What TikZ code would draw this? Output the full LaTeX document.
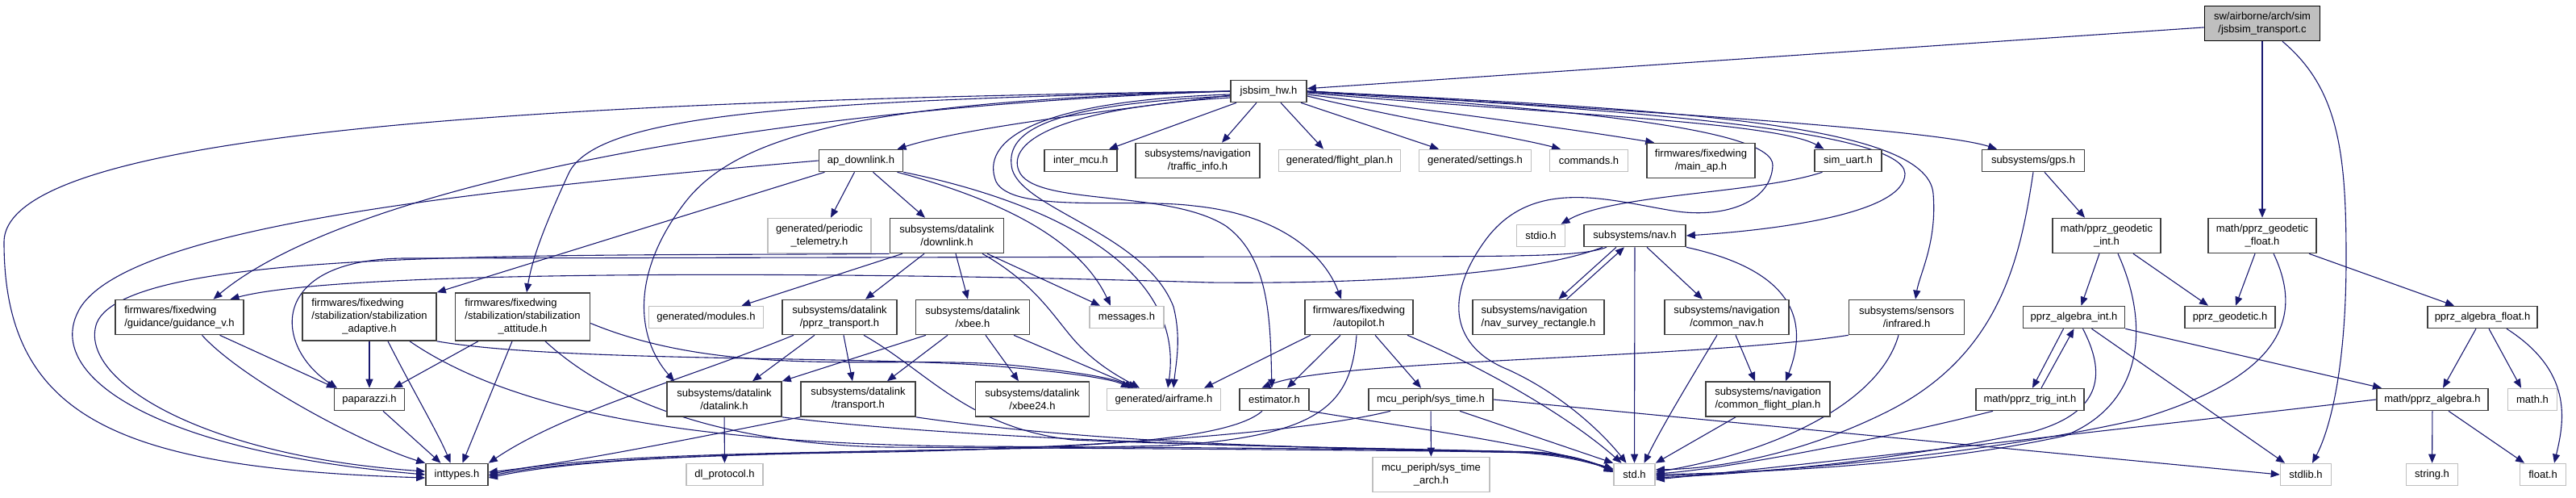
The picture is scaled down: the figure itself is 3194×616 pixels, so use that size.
\documentclass[tikz,border=0pt]{standalone}
\usepackage{fontspec}
\setmainfont{Liberation Sans}
\usetikzlibrary{arrows.meta}
\definecolor{edgec}{RGB}{25,25,112}
\definecolor{bdark}{RGB}{64,64,64}
\definecolor{blight}{RGB}{191,191,191}
\newcommand{\dxfont}{\fontsize{13}{16}\selectfont}
\pgfdeclarelayer{bg}
\pgfsetlayers{bg,main}
\begin{document}
\begin{tikzpicture}[x=1pt,y=-1pt,
  box/.style={draw=bdark, line width=1.6pt, fill=white, inner sep=0pt, minimum height=27pt, align=center, font=\dxfont},
  gbox/.style={box, draw=blight},
  mainbox/.style={box, draw=black, fill=blight},
  two/.style={minimum height=43pt},
  e/.style={draw=edgec, line width=1.1pt, -{Triangle[length=11pt,width=9pt]}}]
\useasboundingbox (0,0) rectangle (3194,616);
% row 0/1
\node[mainbox, two, minimum width=143pt] (M) at (2805,29) {sw/airborne/arch/sim\\/jsbsim\_transport.c};
\node[box, minimum width=94pt] (J) at (1573,113) {jsbsim\_hw.h};
% row 2
\node[box, minimum width=104pt] (AP) at (1067.5,199) {ap\_downlink.h};
\node[box, minimum width=90pt] (IM) at (1340,199) {inter\_mcu.h};
\node[box, two, minimum width=154pt] (TI) at (1485,199) {subsystems/navigation\\/traffic\_info.h};
\node[gbox, minimum width=151pt] (FP) at (1661,199) {generated/flight\_plan.h};
\node[gbox, minimum width=139pt] (SE) at (1829,199) {generated/settings.h};
\node[gbox, minimum width=97pt] (CM) at (1970,199) {commands.h};
\node[box, two, minimum width=134pt] (MA) at (2109,199) {firmwares/fixedwing\\/main\_ap.h};
\node[box, minimum width=83pt] (SU) at (2291.5,199) {sim\_uart.h};
\node[box, minimum width=127pt] (GPS) at (2521,199) {subsystems/gps.h};
% row 3
\node[gbox, two, minimum width=128pt] (PT) at (1016,292) {generated/periodic\\\_telemetry.h};
\node[box, two, minimum width=141pt] (DK) at (1174,292) {subsystems/datalink\\/downlink.h};
\node[gbox, minimum width=60pt] (SIO) at (1910.5,292) {stdio.h};
\node[box, minimum width=126pt] (NAV) at (2027,292) {subsystems/nav.h};
\node[box, two, minimum width=134pt] (GI) at (2612,292) {math/pprz\_geodetic\\\_int.h};
\node[box, two, minimum width=134pt] (GF) at (2805,292) {math/pprz\_geodetic\\\_float.h};
% row 4
\node[box, two, minimum width=159pt, align=left] (GV) at (222.5,393) {firmwares/fixedwing\\/guidance/guidance\_v.h};
\node[box, minimum height=59pt, minimum width=166pt] (SAD) at (458,392.5) {\begin{tabular}{@{}l@{}}firmwares/fixedwing\\/stabilization/stabilization\\\multicolumn{1}{@{}c@{}}{\_adaptive.h}\end{tabular}};
\node[box, minimum height=59pt, minimum width=167pt] (SAT) at (648,392.5) {\begin{tabular}{@{}l@{}}firmwares/fixedwing\\/stabilization/stabilization\\\multicolumn{1}{@{}c@{}}{\_attitude.h}\end{tabular}};
\node[gbox, minimum width=142pt] (MD) at (875.5,393) {generated/modules.h};
\node[box, two, minimum width=142pt] (PTR) at (1041,393) {subsystems/datalink\\/pprz\_transport.h};
\node[box, two, minimum width=141pt] (XB) at (1206,393) {subsystems/datalink\\/xbee.h};
\node[gbox, minimum width=92pt] (MS) at (1397,393) {messages.h};
\node[box, two, minimum width=134pt] (AUTO) at (1685,393) {firmwares/fixedwing\\/autopilot.h};
\node[box, two, minimum width=163pt, align=left] (NSR) at (1907.5,393) {subsystems/navigation\\/nav\_survey\_rectangle.h};
\node[box, two, minimum width=154pt] (CN) at (2141,393) {subsystems/navigation\\/common\_nav.h};
\node[box, two, minimum width=143pt] (IR) at (2364,393) {subsystems/sensors\\/infrared.h};
\node[box, minimum width=126pt] (AI) at (2571.5,393) {pprz\_algebra\_int.h};
\node[box, minimum width=112pt] (GD) at (2765,393) {pprz\_geodetic.h};
\node[box, minimum width=136pt] (AFL) at (3078,393) {pprz\_algebra\_float.h};
% row 5
\node[box, minimum width=87pt] (PP) at (458,495) {paparazzi.h};
\node[box, two, minimum width=142pt] (DL) at (898,494.5) {subsystems/datalink\\/datalink.h};
\node[box, two, minimum width=142pt] (TR) at (1064,494.5) {subsystems/datalink\\/transport.h};
\node[box, two, minimum width=141pt] (X24) at (1280,494.5) {subsystems/datalink\\/xbee24.h};
\node[gbox, minimum width=141pt] (AF) at (1443,495) {generated/airframe.h};
\node[box, minimum width=86pt] (ES) at (1580,495) {estimator.h};
\node[box, minimum width=154pt] (ST) at (1774,495) {mcu\_periph/sys\_time.h};
\node[box, two, minimum width=154pt] (CFP) at (2192,494.5) {subsystems/navigation\\/common\_flight\_plan.h};
\node[box, minimum width=134pt] (TG) at (2517,495) {math/pprz\_trig\_int.h};
\node[box, minimum width=138pt] (PA) at (3016,495) {math/pprz\_algebra.h};
\node[gbox, minimum width=61pt] (MH) at (3140,495) {math.h};
% row 6
\node[box, minimum width=77pt] (IT) at (566.5,588) {inttypes.h};
\node[gbox, minimum width=95pt] (DP) at (898.5,588) {dl\_protocol.h};
\node[gbox, two, minimum width=145pt] (STA) at (1774.5,588) {mcu\_periph/sys\_time\\\_arch.h};
\node[gbox, minimum width=51pt] (STD) at (2026.5,588) {std.h};
\node[gbox, minimum width=63pt] (SL) at (2859,588) {stdlib.h};
\node[gbox, minimum width=64pt] (STR) at (3015.5,588) {string.h};
\node[gbox, minimum width=57pt] (FL) at (3153,588) {float.h};

\begin{pgfonlayer}{bg}
% ---- edges from main
\draw[e] (M) -- (J);
\draw[e] (M) -- (GF);
\draw[e] ([xshift=25pt]M.south) .. controls (2900,110) and (2909,190) .. (2909,320) .. controls (2909,470) and (2885,540) .. ([xshift=8pt]SL.north);

% ---- edges from jsbsim_hw.h
\draw[e] (J.west) .. controls (700,125) and (5,160) .. (5,300) .. controls (5,520) and (150,580) .. ([yshift=-4pt]IT.west);
\draw[e] (J.west) .. controls (900,135) and (420,240) .. ([xshift=42pt]GV.north);
\draw[e] (J.west) .. controls (1000,125) and (740,140) .. (705,215) .. controls (675,280) and (660,320) .. ([xshift=5pt]SAT.north);
\draw[e] (J.west) .. controls (1100,125) and (920,160) .. (850,250) .. controls (780,340) and (790,420) .. ([xshift=-62pt]DL.north);
\draw[e] ([yshift=-5pt]J.west) .. controls (1350,140) and (1190,160) .. ([xshift=45pt]AP.north);
\draw[e] ([xshift=-40pt]J.south) -- ([xshift=35pt]IM.north);
\draw[e] ([xshift=-15pt]J.south) -- ([xshift=30pt]TI.north);
\draw[e] ([xshift=15pt]J.south) -- ([xshift=-20pt]FP.north);
\draw[e] ([xshift=40pt]J.south) -- ([xshift=-45pt]SE.north);
\draw[e] ([yshift=-6pt]J.east) .. controls (1750,150) and (1880,170) .. ([xshift=-35pt]CM.north);
\draw[e] ([yshift=-4pt]J.east) .. controls (1800,140) and (1950,160) .. ([xshift=10pt]MA.north west);
\draw[e] ([yshift=-2pt]J.east) .. controls (1900,140) and (2200,150) .. ([xshift=-30pt]SU.north);
\draw[e] (J.east) .. controls (2000,135) and (2400,160) .. ([xshift=-45pt]GPS.north);
\draw[e] (J.east) .. controls (2000,135) and (2360,160) .. (2362,215) .. controls (2362,265) and (2200,285) .. (NAV.east);
\draw[e] (J.east) .. controls (2050,135) and (2390,150) .. (2397,240) .. controls (2402,300) and (2380,340) .. ([xshift=11pt]IR.north);
\draw[e] ([yshift=-1pt]J.east) .. controls (1950,135) and (2200,160) .. (2198,205) .. controls (2196,250) and (2140,270) .. (2080,262) .. controls (2000,250) and (1900,215) .. (1840,300) .. controls (1790,370) and (1800,430) .. (1870,458) .. controls (1940,490) and (1990,540) .. ([xshift=-10pt]STD.north);
\draw[e] ([yshift=-4pt]J.west) .. controls (1280,125) and (1215,175) .. (1235,225) .. controls (1255,265) and (1400,245) .. (1480,255) .. controls (1580,265) and (1640,310) .. ([xshift=-22pt]AUTO.north);
\draw[e] ([yshift=-6pt]J.west) .. controls (1290,130) and (1245,165) .. (1255,210) .. controls (1270,260) and (1420,290) .. (1455,380) .. controls (1465,420) and (1458,450) .. ([xshift=12pt]AF.north);
\draw[e] ([yshift=-8pt]J.west) .. controls (1300,135) and (1245,180) .. (1265,215) .. controls (1290,255) and (1450,235) .. (1520,280) .. controls (1575,320) and (1575,400) .. ([xshift=-3pt]ES.north);

% ---- ap_downlink.h
\draw[e] (AP.west) .. controls (600,235) and (140,280) .. (95,390) .. controls (60,470) and (200,560) .. (IT.west);
\draw[e] ([xshift=-45pt]AP.south) -- (SAD.north east);
\draw[e] ([xshift=-8pt]AP.south) -- ([xshift=14pt]PT.north);
\draw[e] ([xshift=15pt]AP.south) -- ([xshift=-27pt]DK.north);
\draw[e] ([xshift=45pt]AP.south) .. controls (1250,250) and (1340,300) .. ([xshift=-20pt]MS.north);
\draw[e] (AP.south east) .. controls (1300,250) and (1470,330) .. ([xshift=5pt]AF.north);

% ---- downlink.h
\draw[e] (DK.south west) .. controls (700,318) and (160,305) .. (120,400) .. controls (95,470) and (250,565) .. ([yshift=4pt]IT.west);
\draw[e] ([xshift=-55pt]DK.south) -- ([xshift=44pt]MD.north);
\draw[e] ([xshift=-28pt]DK.south) -- ([xshift=32pt]PTR.north);
\draw[e] ([xshift=11pt]DK.south) -- ([xshift=-6pt]XB.north);
\draw[e] ([xshift=44pt]DK.south) .. controls (1290,355) and (1310,400) .. (1340,430) .. controls (1365,455) and (1390,468) .. ([xshift=-30pt]AF.north);
\draw[e] ([xshift=50pt]DK.south) -- ([xshift=-33pt]MS.north);

% ---- pprz_transport.h
\draw[e] ([xshift=-57pt]PTR.south) .. controls (850,470) and (700,510) .. (IT.north east);
\draw[e] ([xshift=-31pt]PTR.south) -- ([xshift=35pt]DL.north);
\draw[e] ([xshift=5pt]PTR.south) -- ([xshift=-7pt]TR.north);
\draw[e] ([xshift=30pt]PTR.south) .. controls (1150,460) and (1200,530) .. (1330,545) .. controls (1600,556) and (1850,556) .. (1900,562) .. controls (1950,566) and (1980,576) .. ([yshift=6pt]STD.west);

% ---- xbee.h
\draw[e] ([xshift=-58pt]XB.south) -- (DL.north east);
\draw[e] ([xshift=-31pt]XB.south) -- ([xshift=36pt]TR.north);
\draw[e] ([xshift=16pt]XB.south) -- ([xshift=-17pt]X24.north);
\draw[e] ([xshift=51pt]XB.south) -- ([xshift=-33pt]AF.north);

% ---- datalink.h / transport.h
\draw[e] (DL) -- (DP);
\draw[e] (DL.south east) .. controls (1200,545) and (1600,555) .. (1900,560) .. controls (1950,562) and (1980,575) .. ([yshift=4pt]STD.west);
\draw[e] (TR.south west) .. controls (850,545) and (700,575) .. ([yshift=3pt]IT.east);
\draw[e] (TR.south east) .. controls (1350,548) and (1600,555) .. (1900,561) .. controls (1950,564) and (1980,575) .. ([yshift=5pt]STD.west);

% ---- guidance / stabilization / paparazzi
\draw[e] ([xshift=50pt]GV.south) -- ([xshift=-42pt]PP.north);
\draw[e] ([xshift=28pt]GV.south) .. controls (300,470) and (450,550) .. (IT.north west);
\draw[e] (SAD) -- (PP);
\draw[e] ([xshift=23pt]SAD.south) .. controls (510,480) and (545,540) .. ([xshift=-8pt]IT.north);
\draw[e] ([xshift=50pt]SAD.south) .. controls (650,520) and (900,550) .. (1200,553) .. controls (1600,555) and (1850,558) .. (1900,560) .. controls (1950,563) and (1980,575) .. ([yshift=3pt]STD.west);
\draw[e] (SAD.south east) .. controls (700,450) and (1100,440) .. (1250,455) .. controls (1330,462) and (1380,470) .. ([xshift=-42pt]AF.north);
\draw[e] ([xshift=-55pt]SAT.south) -- ([xshift=30pt]PP.north);
\draw[e] ([xshift=-13pt]SAT.south) -- ([xshift=7pt]IT.north);
\draw[e] ([xshift=28pt]SAT.south) .. controls (760,500) and (900,550) .. (1100,554) .. controls (1500,556) and (1850,559) .. (1900,561) .. controls (1950,564) and (1980,575) .. ([yshift=4pt]STD.west);
\draw[e] ([yshift=-8pt]SAT.east) .. controls (900,470) and (1100,440) .. (1250,452) .. controls (1330,460) and (1380,468) .. ([xshift=-38pt]AF.north);
\draw[e] ([xshift=17pt]PP.south) -- ([xshift=-20pt]IT.north);

% ---- nav.h
\draw[e] ([xshift=-40pt]NAV.south) .. controls (1900,340) and (1700,352) .. (1500,350) .. controls (1000,335) and (420,335) .. ([xshift=63pt]GV.north);
\draw[e] ([xshift=-35pt]NAV.south) .. controls (1960,318) and (1900,318) .. (1600,318) -- (500,320) .. controls (330,322) and (340,430) .. ([xshift=-40pt]PP.north);
\draw[e] ([xshift=-23pt]NAV.south) -- ([xshift=25pt]NSR.north);
\draw[e] ([xshift=35pt]NSR.north) -- ([xshift=-13pt]NAV.south);
\draw[e] (NAV) -- (STD);
\draw[e] ([xshift=15pt]NAV.south) -- ([xshift=-30pt]CN.north);
\draw[e] (NAV.south east) .. controls (2200,330) and (2250,380) .. ([xshift=22pt]CFP.north);
\draw[e] ([xshift=-12pt]CN.south) .. controls (2090,480) and (2060,530) .. ([xshift=12pt]STD.north);
\draw[e] ([xshift=11pt]CN.south) -- ([xshift=-16pt]CFP.north);
\draw[e] ([xshift=-40pt]CFP.south) -- (STD.north east);

% ---- autopilot / estimator / sys_time
\draw[e] ([xshift=-60pt]AUTO.south) -- ([xshift=50pt]AF.north);
\draw[e] ([xshift=-23pt]AUTO.south) -- ([xshift=16pt]ES.north);
\draw[e] ([xshift=-3pt]AUTO.south) .. controls (1675,500) and (1640,540) .. (1450,552) .. controls (1100,560) and (750,560) .. ([yshift=-2pt]IT.east);
\draw[e] ([xshift=20pt]AUTO.south) -- ([xshift=-12pt]ST.north);
\draw[e] ([xshift=60pt]AUTO.south) .. controls (1850,460) and (1950,520) .. ([xshift=-16pt]STD.north);
\draw[e] ([xshift=-15pt]ES.south) .. controls (1530,540) and (1400,552) .. (1200,557) .. controls (900,562) and (720,565) .. (IT.east);
\draw[e] (ES.south east) .. controls (1750,530) and (1900,550) .. ([yshift=7pt]STD.west);
\draw[e] ([xshift=-50pt]ST.south) .. controls (1600,540) and (1300,556) .. (1100,560) .. controls (900,563) and (720,568) .. ([yshift=-4pt]IT.east);
\draw[e] (ST) -- (STA);
\draw[e] ([xshift=36pt]ST.south) -- (STD.north west);
\draw[e] (ST.east) -- (SL.west);
\draw[e] ([xshift=-32pt]SU.south) .. controls (2180,240) and (2000,240) .. ([xshift=25pt]SIO.north);

% ---- gps / infrared
\draw[e] ([xshift=14pt]GPS.south) -- ([xshift=-27pt]GI.north);
\draw[e] (GPS.south) .. controls (2505,320) and (2480,440) .. (2340,510) .. controls (2250,555) and (2150,580) .. ([yshift=6pt]STD.east);
\draw[e] (IR.south west) .. controls (2100,445) and (1650,445) .. ([xshift=50pt]AF.north east);
\draw[e] ([xshift=-10pt]IR.south) .. controls (2330,500) and (2200,560) .. ([yshift=3pt]STD.east);

% ---- geodetic / algebra
\draw[e] ([xshift=-9pt]GI.south) -- ([xshift=9pt]AI.north);
\draw[e] ([xshift=33pt]GI.south) -- ([xshift=-27pt]GD.north);
\draw[e] ([xshift=14pt]GI.south) .. controls (2665,400) and (2660,500) .. (2560,540) .. controls (2400,575) and (2200,585) .. (STD.east);
\draw[e] ([xshift=-9pt]GF.south) -- ([xshift=7pt]GD.north);
\draw[e] ([xshift=14pt]GF.south) .. controls (2860,400) and (2820,470) .. (2650,520) .. controls (2450,565) and (2200,585) .. ([yshift=-2pt]STD.east);
\draw[e] ([xshift=58pt]GF.south) -- ([xshift=-35pt]AFL.north);
\draw[e] ([xshift=-13pt]AI.south) -- ([xshift=3pt]TG.north);
\draw[e] ([xshift=14pt]TG.north) -- (AI.south);
\draw[e] ([xshift=11pt]AI.south) .. controls (2610,460) and (2610,510) .. (2520,535) .. controls (2350,570) and (2200,585) .. ([yshift=-4pt]STD.east);
\draw[e] ([xshift=22pt]AI.south) -- ([xshift=-26pt]SL.north);
\draw[e] (AI.south east) -- ([xshift=-63pt]PA.north);
\draw[e] ([xshift=-46pt]TG.south) .. controls (2350,540) and (2150,580) .. ([yshift=1pt]STD.east);
\draw[e] ([xshift=-8pt]AFL.south) -- ([xshift=13pt]PA.north);
\draw[e] ([xshift=8pt]AFL.south) -- ([xshift=-14pt]MH.north);
\draw[e] ([xshift=30pt]AFL.south) .. controls (3190,460) and (3180,520) .. ([xshift=14pt]FL.north);
\draw[e] (PA.west) .. controls (2600,535) and (2200,580) .. ([yshift=-6pt]STD.east);
\draw[e] (PA) -- (STR);
\draw[e] ([xshift=20pt]PA.south) -- ([xshift=-23pt]FL.north);
\end{pgfonlayer}
\end{tikzpicture}
\end{document}
